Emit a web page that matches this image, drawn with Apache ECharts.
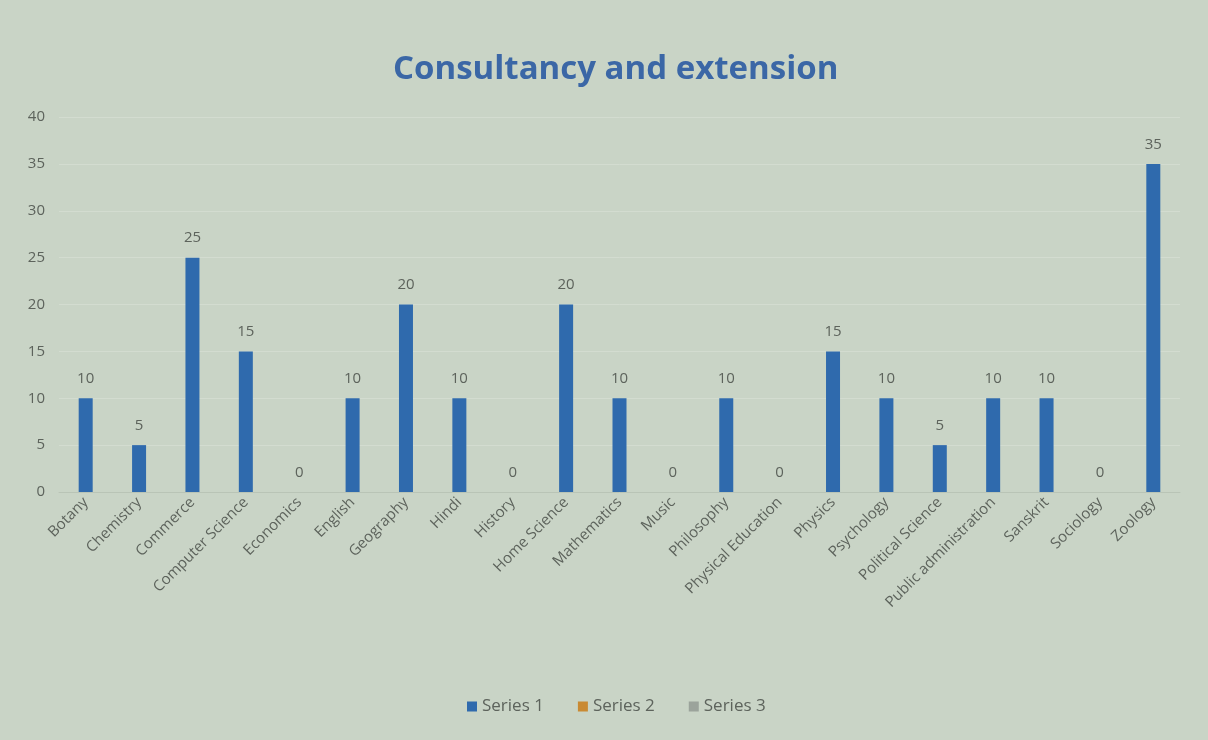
<!DOCTYPE html>
<html>
<head>
<meta charset="utf-8">
<script src="https://cdn.jsdelivr.net/npm/echarts@6/dist/echarts.min.js"></script>
<style>
  html, body { margin: 0; padding: 0; background: #c9d4c6; }
  #chart { width: 1208px; height: 740px; }
</style>
</head>
<body>
<div id="chart"></div>
<script>
var categories = ["Botany", "Chemistry", "Commerce", "Computer Science", "Economics", "English",
  "Geography", "Hindi", "History", "Home Science", "Mathematics", "Music", "Philosophy",
  "Physical Education", "Physics", "Psychology", "Political Science", "Public administration",
  "Sanskrit", "Sociology", "Zoology"];
var series1 = [10, 5, 25, 15, 0, 10, 20, 10, 0, 20, 10, 0, 10, 0, 15, 10, 5, 10, 10, 0, 35];
var series2 = [];
var series3 = [];

var chart = echarts.init(document.getElementById("chart"));
var option = {
  backgroundColor: "#c9d4c6",
  title: {
    text: "Consultancy and extension",
    left: 388,
    top: 48,
    textStyle: { color: "#3b67a6", fontSize: 33, fontWeight: "bold", fontFamily: "Open Sans" }
  },
  legend: {
    bottom: 20,
    left: 462,
    itemWidth: 10,
    itemHeight: 10,
    itemGap: 34,
    icon: "rect",
    textStyle: { color: "#5d635c", fontSize: 17, fontFamily: "Open Sans" }
  },
  grid: { left: 59, right: 28, top: 117, bottom: 248 },
  xAxis: {
    type: "category",
    data: categories,
    axisLine: { lineStyle: { color: "#b9c4b6" } },
    axisTick: { show: false },
    axisLabel: { rotate: 45, color: "#5d635c", fontSize: 15, fontFamily: "Open Sans", margin: 8, interval: 0 }
  },
  yAxis: {
    type: "value",
    min: 0,
    max: 40,
    interval: 5,
    axisLine: { show: false },
    axisTick: { show: false },
    axisLabel: { color: "#5d635c", fontSize: 15, fontFamily: "Open Sans", margin: 14 },
    splitLine: { lineStyle: { color: "#d3dcd0" } }
  },
  series: [
    {
      name: "Series 1",
      type: "bar",
      stack: "all",
      data: series1,
      barWidth: 14,
      itemStyle: { color: "#2f6aad" },
      label: { show: true, position: "top", distance: 12, color: "#5d635c", fontSize: 15, fontFamily: "Open Sans" }
    },
    { name: "Series 2", type: "bar", stack: "all", data: series2, itemStyle: { color: "#c98a33" } },
    { name: "Series 3", type: "bar", stack: "all", data: series3, itemStyle: { color: "#9ba39b" } }
  ]
};
chart.setOption(option);
</script>
</body>
</html>
